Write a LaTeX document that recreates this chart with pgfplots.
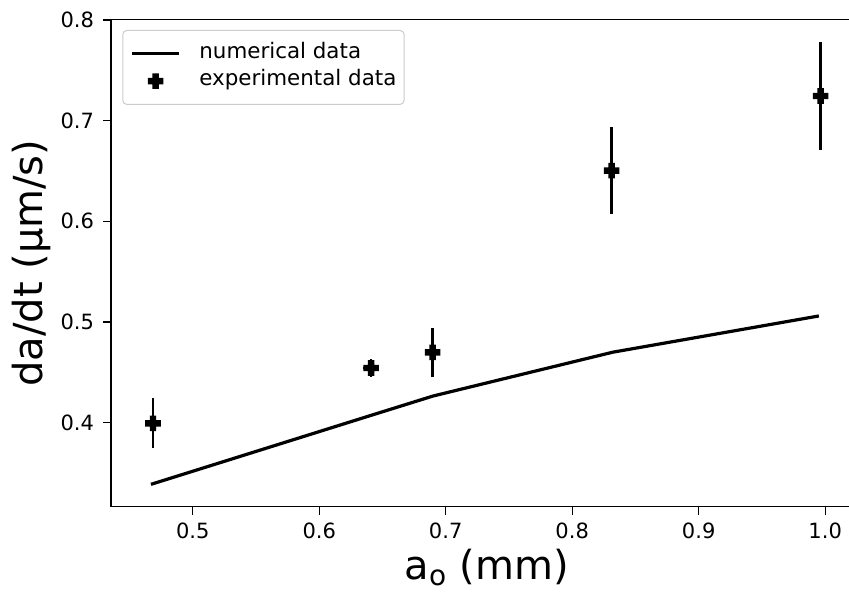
\documentclass[border=0pt]{standalone}
\usepackage{fontspec}
\setmainfont{DejaVu Sans}
\usepackage{pgfplots}
\usepackage{pgfplotstable}
\pgfplotsset{compat=1.18}

\pgfdeclareplotmark{Pfill}{%
  \pgfpathmoveto{\pgfqpoint{-1.6pt}{3.9pt}}%
  \pgfpathlineto{\pgfqpoint{1.6pt}{3.9pt}}%
  \pgfpathlineto{\pgfqpoint{1.6pt}{1.6pt}}%
  \pgfpathlineto{\pgfqpoint{3.9pt}{1.6pt}}%
  \pgfpathlineto{\pgfqpoint{3.9pt}{-1.6pt}}%
  \pgfpathlineto{\pgfqpoint{1.6pt}{-1.6pt}}%
  \pgfpathlineto{\pgfqpoint{1.6pt}{-3.9pt}}%
  \pgfpathlineto{\pgfqpoint{-1.6pt}{-3.9pt}}%
  \pgfpathlineto{\pgfqpoint{-1.6pt}{-1.6pt}}%
  \pgfpathlineto{\pgfqpoint{-3.9pt}{-1.6pt}}%
  \pgfpathlineto{\pgfqpoint{-3.9pt}{1.6pt}}%
  \pgfpathlineto{\pgfqpoint{-1.6pt}{1.6pt}}%
  \pgfpathclose
  \pgfusepathqfill}

\pgfplotstableread{
x y
0.467 0.3388
0.642 0.4077
0.690 0.4265
0.832 0.4700
0.995 0.5060
}\numdata

\pgfplotstableread{
x y ex ey
0.4686 0.3994 0.006 0.0250
0.6410 0.4543 0.006 0.0090
0.6897 0.4699 0.006 0.0245
0.8312 0.6503 0.006 0.0433
0.9964 0.7244 0.006 0.0535
}\expdata

\begin{document}
\begin{tikzpicture}
\useasboundingbox (-55.5pt,-42.65pt) rectangle (369pt,253.35pt);
\clip (-55.5pt,-42.65pt) rectangle (369pt,253.35pt);
\begin{axis}[
  at={(0pt,0pt)}, anchor=south west,
  scale only axis,
  width=375.8pt, height=243.6pt,
  xmin=0.4354, xmax=1.0296,
  ymin=0.3166, ymax=0.8004,
  xtick={0.5,0.6,0.7,0.8,0.9,1.0},
  ytick={0.4,0.5,0.6,0.7,0.8},
  xtick pos=left, ytick pos=left,
  tick align=outside,
  major tick length=4pt,
  axis line style={line width=0.65pt, black},
  tick style={line width=0.65pt, black},
  /pgf/number format/fixed,
  /pgf/number format/fixed zerofill,
  /pgf/number format/precision=1,
  /pgf/number format/assume math mode=true,
  ticklabel style={font=\fontsize{10.5}{12}\selectfont},
  xticklabel style={anchor=base, yshift=-12.15pt},
  yticklabel style={anchor=east, inner sep=0pt, xshift=-4.35pt},
  xlabel={a\textsubscript{o} (mm)},
  ylabel={da/dt (µm/s)},
  label style={font=\fontsize{20}{24}\selectfont},
  xlabel style={at={(axis description cs:0.5,-0.150)}, anchor=base},
  ylabel style={at={(axis description cs:-0.0905,0.5)}, anchor=base},
  legend cell align=left,
  legend style={
    at={(axis description cs:0,1)}, anchor=north west,
    xshift=5.65pt, yshift=-5.25pt,
    draw=black!20, line width=0.5pt, rounded corners=2pt,
    fill=white, fill opacity=0.8, text opacity=1,
    font=\fontsize{10.7}{12}\selectfont,
    inner xsep=3.85pt, inner ysep=6.9pt,
    row sep=4.15pt, column sep=9.35pt,
    nodes={inner sep=0pt, text height=7pt, text depth=2.5pt},
  },
]
\addplot[black, line width=1.6pt, no markers,
  legend image code/.code={\draw[black, line width=1.6pt, sharp corners, draw opacity=1] (0pt,0pt) -- (23.5pt,0pt);}]
  table[x=x, y=y] {\numdata};
\addlegendentry{numerical data}

\addplot[black, only marks, mark=Pfill,
  error bars/.cd,
    x dir=both, x explicit,
    y dir=both, y explicit,
    error mark=none,
    error bar style={line width=1.4pt, black},
  /pgfplots/.cd,
  legend image code/.code={\path (0pt,0pt) (23.5pt,0pt);
    \begin{scope}[sharp corners, fill opacity=1, draw opacity=1]\pgftransformshift{\pgfqpoint{11.75pt}{0pt}}\pgfsetfillcolor{black}\pgfuseplotmark{Pfill}\end{scope}}]
  table[x=x, y=y, x error=ex, y error=ey] {\expdata};
\addlegendentry{experimental data}
\end{axis}
\end{tikzpicture}
\end{document}
